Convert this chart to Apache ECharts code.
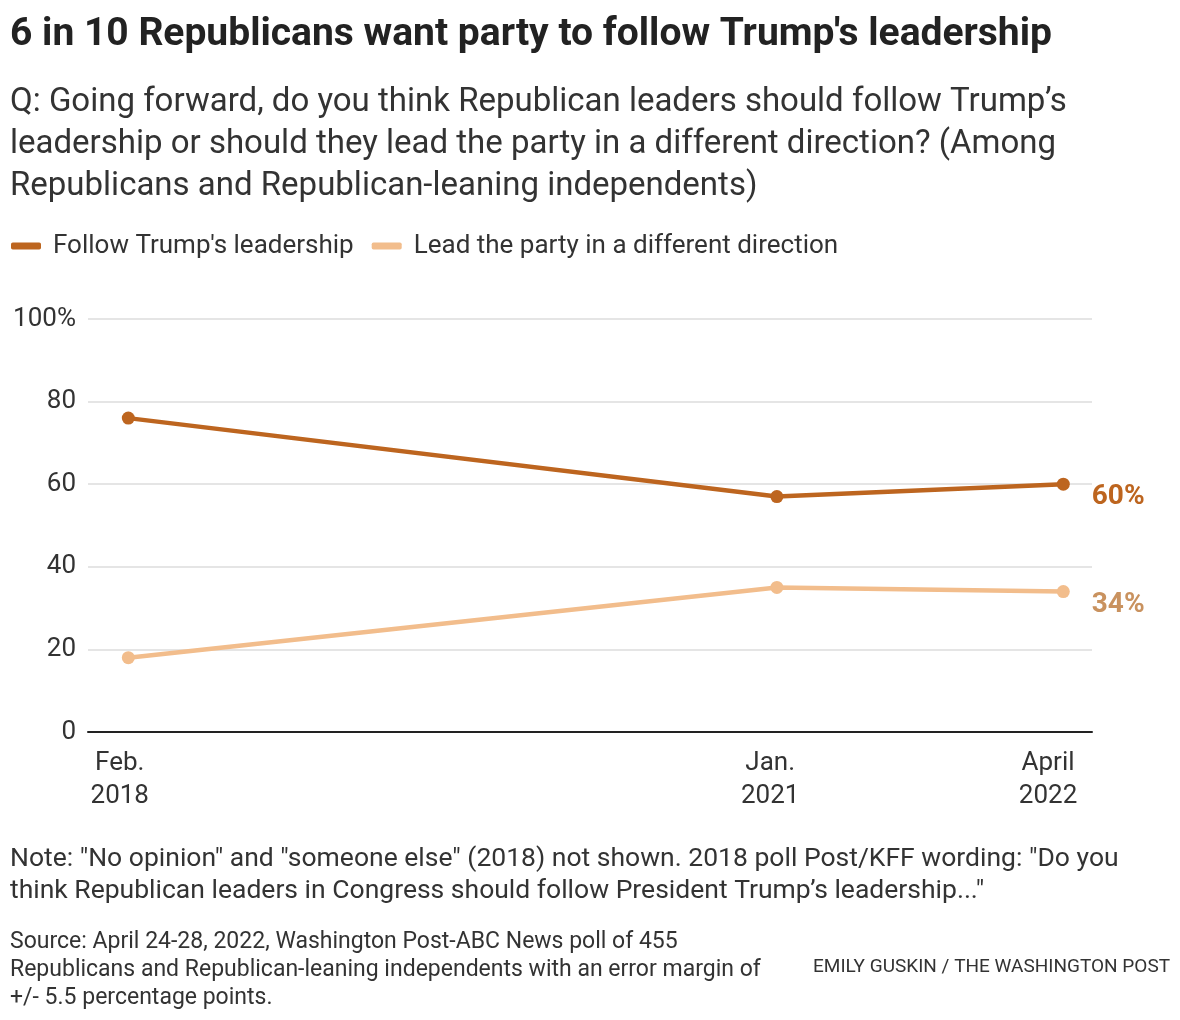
<!DOCTYPE html>
<html><head><meta charset="utf-8">
<script src="https://cdn.jsdelivr.net/npm/echarts@6/dist/echarts.min.js"></script>
<style>html,body{margin:0;padding:0;background:#fff}#c{width:1180px;height:1020px}</style>
</head><body><div id="c"></div>
<script>
// poll field dates (data points)
const dates = ['2018-02-15', '2021-01-12', '2022-04-26'];
// axis label positions (start of month) and text
const labelDates = ['2018-02-01', '2021-01-01', '2022-04-01'];
const dateLabels = ['Feb.\n2018', 'Jan.\n2021', 'April\n2022'];
const followTrump = [76, 57, 60];
const differentDirection = [18, 35, 34];
const seriesNames = ["Follow Trump's leadership", 'Lead the party in a different direction'];
const yTicks = [0, 20, 40, 60, 80, 100];

const FONT = 'Roboto, "Liberation Sans", sans-serif';
const DAY = 86400000;
const ts = d => new Date(d + 'T00:00:00Z').getTime();
const dayNum = d => ts(d) / DAY;
const pointVals = dates.map(dayNum);
const tickVals = labelDates.map(dayNum);
const xMin = pointVals[0] - 66;
const xMax = pointVals[2] + 47;

const chart = echarts.init(document.getElementById('c'), null, {renderer: 'canvas'});
function mk(vals) { return vals.map((v, i) => [pointVals[i], v]); }
const colors = ['#bd651f', '#f2bd8c'];
const labelColors = ['#bd651f', '#c9925f'];

chart.setOption({
  animation: false,
  backgroundColor: '#fff',
  textStyle: {fontFamily: FONT},
  grid: {left: 88, right: 88, top: 319, bottom: 288, containLabel: false},
  legend: {
    left: 6, top: 228, itemWidth: 30, itemHeight: 7, itemGap: 18, icon: 'roundRect',
    textStyle: {fontSize: 26, color: '#333', fontFamily: FONT, padding: [0, 0, 0, 7]},
    data: seriesNames
  },
  xAxis: {
    type: 'value', min: xMin, max: xMax,
    axisLine: {lineStyle: {color: '#222', width: 2}},
    axisTick: {show: false},
    splitLine: {show: false},
    axisLabel: {
      customValues: tickVals,
      formatter: function (v) {
        let best = 0;
        tickVals.forEach((t, i) => { if (Math.abs(t - v) < Math.abs(tickVals[best] - v)) best = i; });
        return dateLabels[best];
      },
      fontSize: 26, color: '#333', lineHeight: 33, margin: 15, fontFamily: FONT,
      hideOverlap: false
    }
  },
  yAxis: {
    type: 'value', min: 0, max: 100, interval: 20,
    axisLine: {show: false}, axisTick: {show: false},
    splitLine: {lineStyle: {color: '#dcdcdc', width: 1.5}},
    axisLabel: {
      fontSize: 26, color: '#333', margin: 12, fontFamily: FONT,
      formatter: v => v === 100 ? '100%' : String(v)
    }
  },
  series: [0, 1].map(k => ({
    name: seriesNames[k], type: 'line',
    data: mk(k === 0 ? followTrump : differentDirection),
    color: colors[k],
    lineStyle: {width: 4.5, color: colors[k]},
    symbol: 'circle', symbolSize: 13, showSymbol: true,
    itemStyle: {color: colors[k]},
    z: k === 0 ? 3 : 2,
    label: {
      show: true, position: 'right', distance: 22,
      offset: [0, 13],
      fontSize: 28, fontWeight: 'bold', color: labelColors[k], fontFamily: FONT,
      formatter: p => p.dataIndex === 2 ? p.value[1] + '%' : ''
    }
  })),
  graphic: [
    {type: 'text', left: 10, top: 16, style: {text: "6 in 10 Republicans want party to follow Trump's leadership", font: 'bold 39px ' + FONT, fill: '#222'}},
    {type: 'text', left: 10, top: 82, style: {text: 'Q: Going forward, do you think Republican leaders should follow Trump’s\nleadership or should they lead the party in a different direction? (Among\nRepublicans and Republican-leaning independents)', font: '33px ' + FONT, lineHeight: 42, fill: '#333'}},
    {type: 'text', left: 10, top: 843, style: {text: 'Note: "No opinion" and "someone else" (2018) not shown. 2018 poll Post/KFF wording: "Do you\nthink Republican leaders in Congress should follow President Trump’s leadership..."', font: '26.5px ' + FONT, lineHeight: 32, fill: '#333'}},
    {type: 'text', left: 10, top: 928, style: {text: 'Source: April 24-28, 2022, Washington Post-ABC News poll of 455\nRepublicans and Republican-leaning independents with an error margin of\n+/- 5.5 percentage points.', font: '23px ' + FONT, lineHeight: 28, fill: '#333'}},
    {type: 'text', right: 10, top: 958, style: {text: 'EMILY GUSKIN / THE WASHINGTON POST', font: '19px ' + FONT, fill: '#333'}}
  ]
});
</script></body></html>
